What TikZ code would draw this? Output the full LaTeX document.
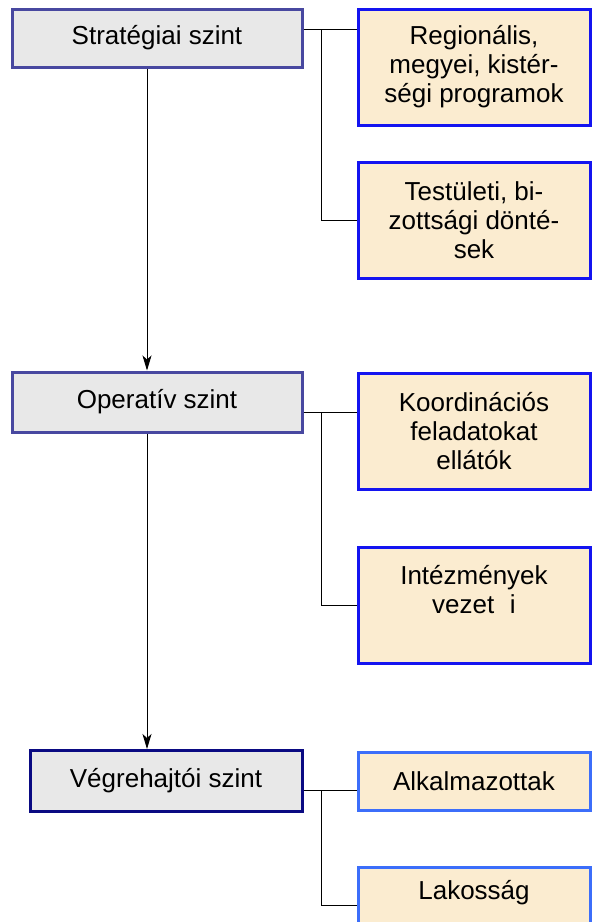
\documentclass[tikz,border=0pt]{standalone}
\usepackage{fontspec}
\setmainfont{Liberation Sans}
\usetikzlibrary{arrows.meta}
\definecolor{levelgray}{RGB}{232,232,232}
\definecolor{levelborder}{RGB}{72,72,160}
\definecolor{navyborder}{RGB}{10,10,130}
\definecolor{beige}{RGB}{251,236,208}
\definecolor{brightblue}{RGB}{20,20,240}
\definecolor{lightblue}{RGB}{60,110,250}
\tikzset{
  levelbox/.style={draw=levelborder, line width=3pt, fill=levelgray, inner sep=0pt,
    font=\fontsize{26}{29}\selectfont, align=center},
  itembox/.style={draw=brightblue, line width=3pt, fill=beige, inner sep=0pt,
    font=\fontsize{26}{29}\selectfont, align=center},
  itemboxb/.style={itembox, draw=lightblue},
  link/.style={draw=black, line width=1pt},
  downarrow/.style={link, -{Stealth[length=15pt,width=9pt,inset=4pt]}}
}
\begin{document}
\begin{tikzpicture}[x=1pt,y=-1pt]
\useasboundingbox (0,0) rectangle (598,922);
\clip (0,0) rectangle (598,922);
% level boxes
\node[levelbox, minimum width=290pt, minimum height=58pt] (b1) at (157,38) {Stratégiai szint};
\node[levelbox, minimum width=290pt, minimum height=60pt] (b2) at (157,402) {Operatív szint};
\node[levelbox, draw=navyborder, minimum width=272pt, minimum height=61pt] (b3) at (166,781) {Végrehajtói szint};
% item boxes
\node[itembox, minimum width=232pt, minimum height=116pt] (r1) at (474,67) {Regionális,\\megyei, kistér-\\ségi programok};
\node[itembox, minimum width=232pt, minimum height=116pt] (r2) at (474,220) {Testületi, bi-\\zottsági dönté-\\sek};
\node[itembox, minimum width=232pt, minimum height=116pt] (r3) at (474,431) {Koordinációs\\feladatokat\\ellátók};
\node[itembox, minimum width=232pt, minimum height=116pt] (r4) at (474,605) {};
\node[font=\fontsize{26}{29}\selectfont, align=center, inner sep=0pt] (r4t) at (474,590) {Intézmények\\vezet\hspace{0.6em}i};
\node[itemboxb, minimum width=232pt, minimum height=58pt] (r5) at (474,781) {Alkalmazottak};
\node[itemboxb, minimum width=232pt, minimum height=76pt] (r6) at (474,905) {};
\node[font=\fontsize{26}{29}\selectfont, inner sep=0pt] (r6t) at (474,893) {Lakosság};
% junction coordinates
\coordinate (j1) at (321,29);
\coordinate (j2) at (321,412);
\coordinate (j3) at (321,790);
% connectors
\draw[link] (b1.east |- j1) -- (r1.west |- j1);
\draw[link] (j1) |- (r2.west);
\draw[link] (b2.east |- j2) -- (r3.west |- j2);
\draw[link] (j2) |- (r4.west);
\draw[link] (b3.east |- j3) -- (r5.west |- j3);
\draw[link] (j3) |- (r6.west);
% arrows
\draw[downarrow] (b1.south -| 147,0) -- (b2.north -| 147,0);
\draw[downarrow] (b2.south -| 147,0) -- (b3.north -| 147,0);
\end{tikzpicture}
\end{document}
